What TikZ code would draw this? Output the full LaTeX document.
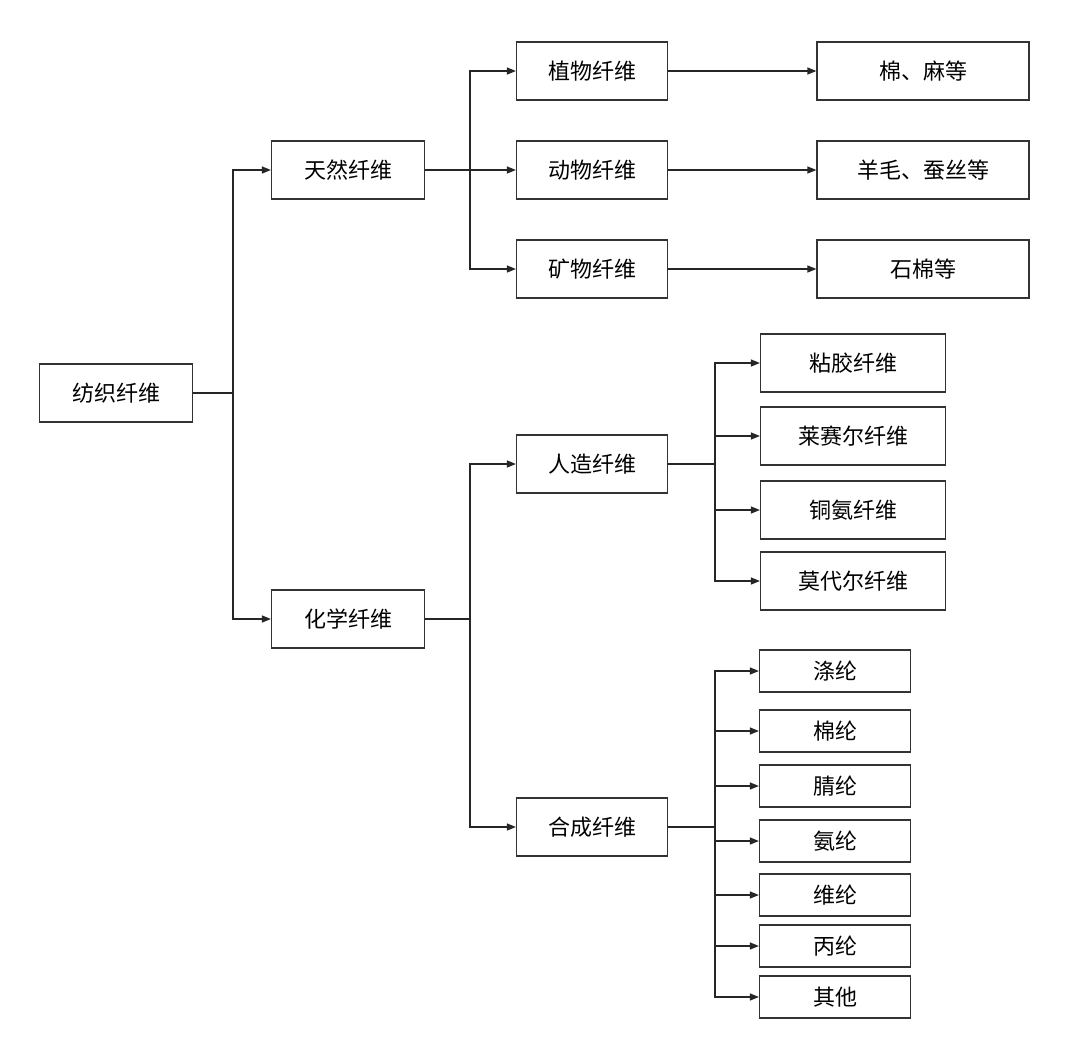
\documentclass[tikz,border=0pt]{standalone}
\usepackage{fontspec}
\setmainfont{Noto Sans CJK SC}
\usetikzlibrary{arrows.meta}
\begin{document}
\begin{tikzpicture}[x=1pt,y=-1pt,
 box/.style={draw=black!80,line width=1.2pt,minimum width=#1pt,minimum height=58pt,inner sep=0pt,font=\fontsize{22}{24}\selectfont},
 sbox/.style={box=#1,minimum height=42pt},
 ln/.style={line width=1.2pt,draw=black!85},
 ar/.style={ln,-{Triangle[length=9pt,width=7pt]}}]
\useasboundingbox[fill=white] (0,0) rectangle (1080,1039);
\node[box=153] (root) at (116,393) {纺织纤维};
\node[box=153] (tr) at (348,170) {天然纤维};
\node[box=153] (hx) at (348,619) {化学纤维};
\node[box=151] (zw) at (592,71) {植物纤维};
\node[box=151] (dw) at (592,170) {动物纤维};
\node[box=151] (kw) at (592,269) {矿物纤维};
\node[box=212] (m1) at (923,71) {棉、麻等};
\node[box=212] (m2) at (923,170) {羊毛、蚕丝等};
\node[box=212] (m3) at (923,269) {石棉等};
\node[box=151] (rz) at (592,464) {人造纤维};
\node[box=151] (hc) at (592,827) {合成纤维};
\node[box=185] (r1) at (853,363) {粘胶纤维};
\node[box=185] (r2) at (853,436) {莱赛尔纤维};
\node[box=185] (r3) at (853,510) {铜氨纤维};
\node[box=185] (r4) at (853,581) {莫代尔纤维};
\foreach \n/\t/\y in {s1/涤纶/671,s2/棉纶/731,s3/腈纶/786,s4/氨纶/841,s5/维纶/895,s6/丙纶/946,s7/其他/997}
  \node[sbox=151] (\n) at (835,\y) {\t};
\coordinate (j0) at (233,393);
\coordinate (j1) at (470,170);
\coordinate (j2) at (470,619);
\coordinate (j3) at (715,464);
\coordinate (j4) at (715,827);
\draw[ln] (root.east) -- (j0);
\draw[ar] (j0) |- (tr.west);
\draw[ar] (j0) |- (hx.west);
\draw[ln] (tr.east) -- (j1);
\foreach \n in {zw,dw,kw} \draw[ar] (j1) |- (\n.west);
\draw[ln] (hx.east) -- (j2);
\foreach \n in {rz,hc} \draw[ar] (j2) |- (\n.west);
\draw[ar] (zw.east) -- (m1.west);
\draw[ar] (dw.east) -- (m2.west);
\draw[ar] (kw.east) -- (m3.west);
\draw[ln] (rz.east) -- (j3);
\foreach \n in {r1,r2,r3,r4} \draw[ar] (j3) |- (\n.west);
\draw[ln] (hc.east) -- (j4);
\foreach \n in {s1,s2,s3,s4,s5,s6,s7} \draw[ar] (j4) |- (\n.west);
\end{tikzpicture}
\end{document}
